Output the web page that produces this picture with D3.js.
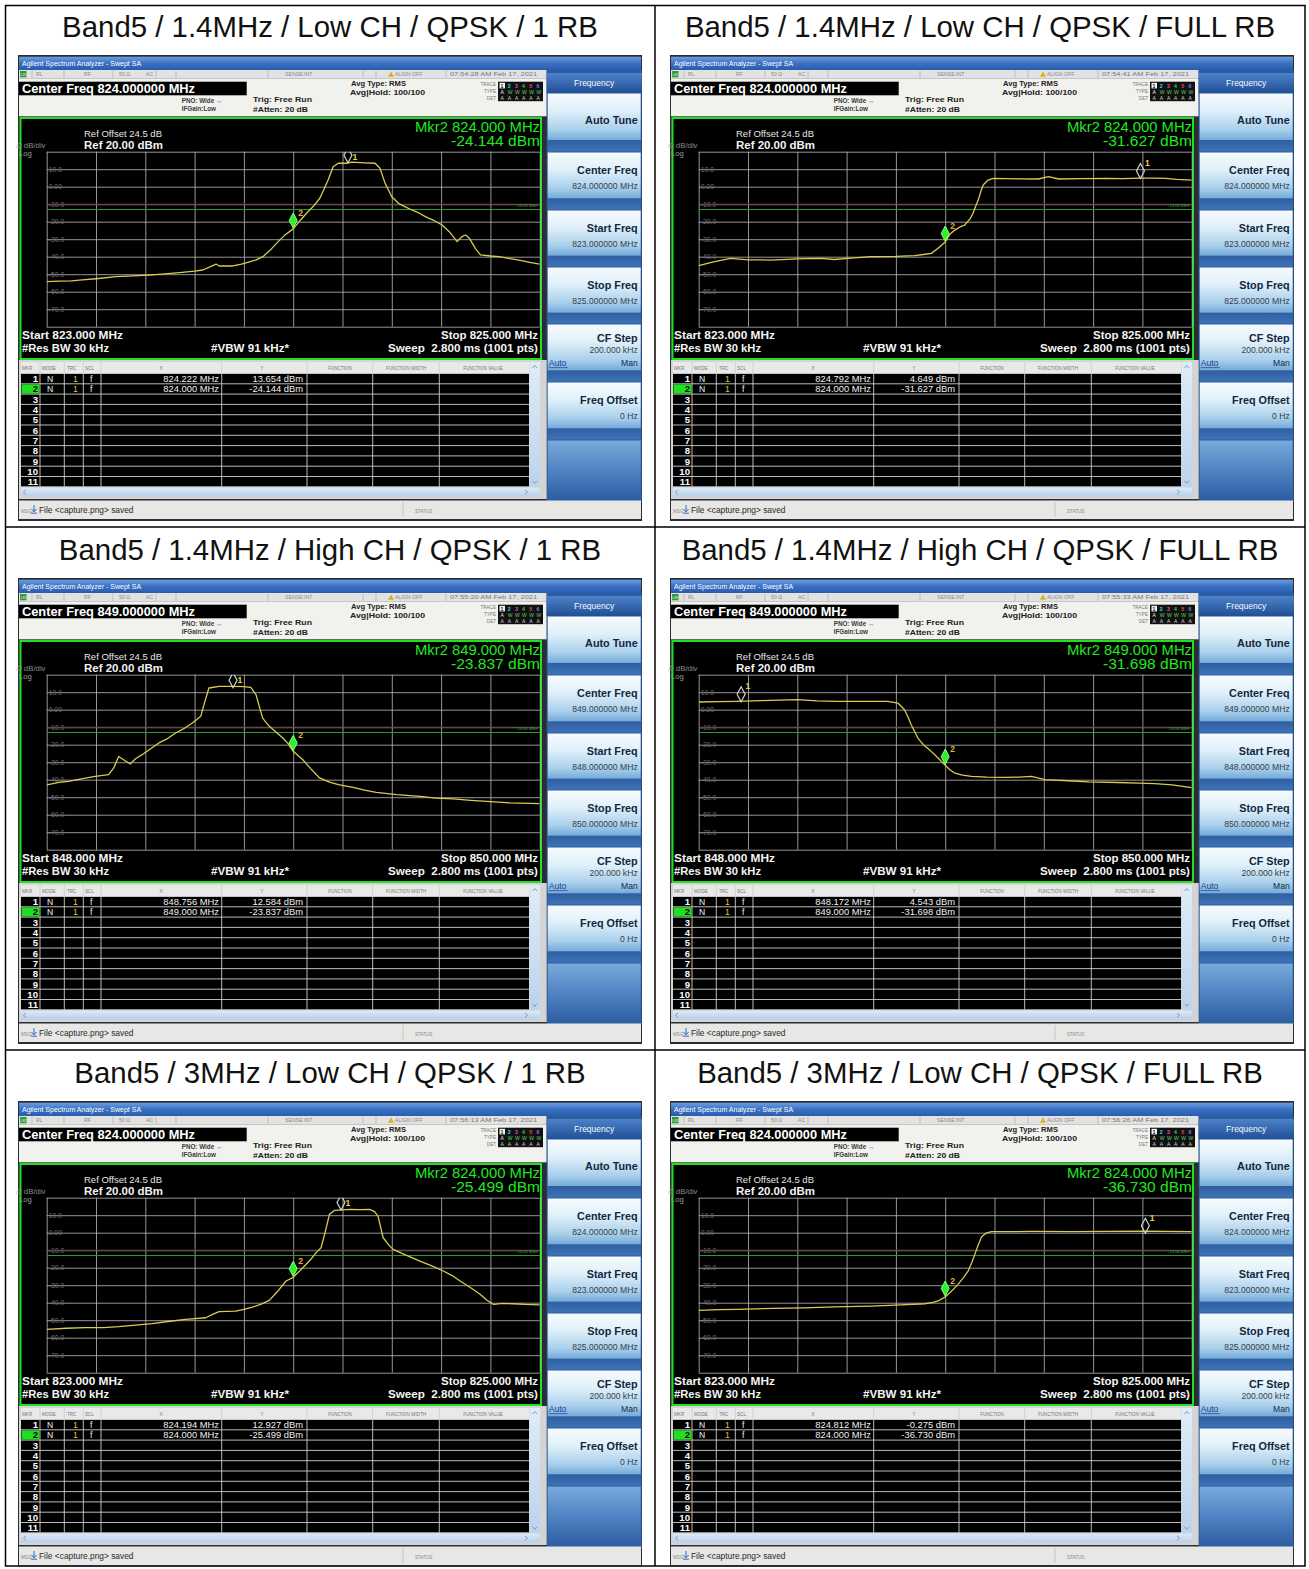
<!DOCTYPE html>
<html>
<head>
<meta charset="utf-8">
<script src="https://cdn.jsdelivr.net/npm/d3@7/dist/d3.min.js"></script>
<style>
html,body{margin:0;padding:0;background:#fff;}
svg{display:block;}
</style>
</head>
<body>
<svg id="chart" width="1309" height="1569"></svg>
<script>
// ---------------- DATA ----------------
const panelTitles = [
  "Band5 / 1.4MHz / Low CH / QPSK / 1 RB",
  "Band5 / 1.4MHz / Low CH / QPSK / FULL RB",
  "Band5 / 1.4MHz / High CH / QPSK / 1 RB",
  "Band5 / 1.4MHz / High CH / QPSK / FULL RB",
  "Band5 / 3MHz / Low CH / QPSK / 1 RB",
  "Band5 / 3MHz / Low CH / QPSK / FULL RB"
];
const centerFreqLabels = ["824.000000 MHz","824.000000 MHz","849.000000 MHz","849.000000 MHz","824.000000 MHz","824.000000 MHz"];
const startFreqLabels = ["823.000000 MHz","823.000000 MHz","848.000000 MHz","848.000000 MHz","823.000000 MHz","823.000000 MHz"];
const stopFreqLabels = ["825.000000 MHz","825.000000 MHz","850.000000 MHz","850.000000 MHz","825.000000 MHz","825.000000 MHz"];
const startFreqs = [823, 823, 848, 848, 823, 823];
const stopFreqs = [825, 825, 850, 850, 825, 825];
const timeStamps = ["07:54:28 AM Feb 17, 2021","07:54:41 AM Feb 17, 2021","07:55:20 AM Feb 17, 2021","07:55:33 AM Feb 17, 2021","07:56:13 AM Feb 17, 2021","07:56:26 AM Feb 17, 2021"];
const mkr1Freq = [824.222, 824.792, 848.756, 848.172, 824.194, 824.812];
const mkr1Level = [13.654, 4.649, 12.584, 4.543, 12.927, -0.275];
const mkr2Freq = [824.000, 824.000, 849.000, 849.000, 824.000, 824.000];
const mkr2Level = [-24.144, -31.627, -23.837, -31.698, -25.499, -36.730];
const yGridLevels = [20,10,0,-10,-20,-30,-40,-50,-60,-70,-80];
const yLabelLevels = [10,0,-10,-20,-30,-40,-50,-60,-70];
const refLevel = 20, bottomLevel = -80, limitLevel = -13, displayLineLevel = -10;

const trace1 = [[823.000,-54.3],[823.05,-54.0],[823.10,-53.8],[823.144,-53.3],[823.20,-52.6],[823.28,-51.4],[823.35,-51.0],[823.415,-50.5],[823.48,-49.8],[823.55,-48.9],[823.60,-48.2],[823.633,-47.6],[823.66,-46.0],[823.687,-44.2],[823.70,-45.3],[823.755,-45.3],[823.79,-44.2],[823.823,-42.9],[823.85,-41.8],[823.877,-40.0],[823.905,-36.5],[823.932,-32.4],[823.965,-27.8],[824.0,-24.1],[824.03,-19.0],[824.054,-15.2],[824.08,-11.5],[824.108,-6.6],[824.125,-1.5],[824.142,4.0],[824.162,11.4],[824.183,13.4],[824.217,13.4],[824.237,14.0],[824.29,13.6],[824.332,13.4],[824.352,10.5],[824.373,1.9],[824.40,-5.7],[824.427,-9.5],[824.455,-11.5],[824.481,-13.3],[824.51,-15.0],[824.536,-17.1],[824.57,-19.2],[824.604,-21.9],[824.635,-26.0],[824.665,-31.4],[824.685,-28.5],[824.699,-27.6],[824.715,-29.5],[824.74,-35.5],[824.76,-39.0],[824.80,-39.6],[824.835,-40.0],[824.875,-41.0],[824.916,-41.9],[824.96,-43.2],[825.0,-44.2]];
const trace2 = [[823.0,-45.1],[823.06,-43.0],[823.129,-41.0],[823.2,-41.8],[823.292,-41.9],[823.4,-41.3],[823.496,-41.0],[823.55,-41.6],[823.604,-41.0],[823.699,-40.0],[823.8,-39.8],[823.876,-39.4],[823.92,-38.6],[823.944,-38.1],[823.971,-35.2],[824.0,-31.6],[824.02,-27.0],[824.039,-24.8],[824.06,-23.0],[824.079,-21.9],[824.1,-18.5],[824.113,-15.2],[824.124,-11.0],[824.134,-7.6],[824.145,-2.5],[824.154,0.95],[824.174,3.8],[824.195,4.76],[824.3,4.5],[824.378,4.4],[824.419,5.7],[824.46,4.4],[824.55,4.6],[824.65,4.76],[824.72,4.6],[824.792,4.9],[824.85,4.9],[824.894,4.76],[824.94,4.2],[825.0,3.8]];
const trace3 = [[848.0,-42.9],[848.05,-41.5],[848.088,-41.0],[848.14,-39.5],[848.197,-38.1],[848.251,-37.1],[848.272,-33.3],[848.292,-26.7],[848.312,-28.6],[848.339,-31.0],[848.36,-28.0],[848.387,-25.7],[848.42,-22.5],[848.455,-19.0],[848.49,-16.5],[848.523,-13.3],[848.56,-10.5],[848.591,-7.6],[848.625,-3.8],[848.638,2.9],[848.658,12.4],[848.699,13.3],[848.756,13.3],[848.8,13.2],[848.828,12.8],[848.849,8.6],[848.876,-4.8],[848.903,-9.5],[848.93,-12.8],[848.958,-16.2],[848.98,-19.5],[849.0,-23.8],[849.039,-28.6],[849.07,-33.5],[849.107,-39.0],[849.15,-41.5],[849.188,-42.9],[849.242,-44.4],[849.29,-46.0],[849.337,-47.2],[849.42,-48.5],[849.514,-49.5],[849.58,-50.5],[849.65,-51.0],[849.72,-51.8],[849.785,-52.4],[849.88,-53.3],[850.0,-53.7]];
const trace4 = [[848.0,4.4],[848.08,4.6],[848.156,4.8],[848.25,5.2],[848.4,5.7],[848.48,5.1],[848.563,4.8],[848.65,4.7],[848.767,4.8],[848.808,3.8],[848.835,0],[848.85,-4.5],[848.862,-8.6],[848.876,-12.5],[848.889,-16.2],[848.915,-20.5],[848.943,-23.8],[848.97,-27.5],[849.0,-31.7],[849.02,-34.5],[849.039,-36.2],[849.07,-37.4],[849.107,-38.1],[849.17,-38.5],[849.242,-38.7],[849.3,-38.5],[849.35,-38.1],[849.405,-40.0],[849.5,-40.6],[849.582,-41.3],[849.7,-41.6],[849.786,-41.9],[849.85,-42.2],[849.921,-42.9],[850.0,-44.5]];
const trace5 = [[823.0,-55.2],[823.08,-54.6],[823.156,-54.3],[823.23,-54.2],[823.292,-53.7],[823.36,-52.8],[823.428,-52.0],[823.5,-50.6],[823.563,-49.5],[823.645,-48.6],[823.675,-46.5],[823.699,-45.1],[823.767,-44.8],[823.80,-43.8],[823.835,-42.5],[823.87,-40.8],[823.903,-38.7],[823.94,-33.0],[823.971,-27.6],[824.0,-25.5],[824.039,-20.0],[824.07,-15.5],[824.093,-11.4],[824.113,-8.6],[824.13,0.5],[824.147,10.5],[824.168,12.8],[824.229,13.3],[824.27,13.2],[824.31,13.3],[824.33,12.0],[824.344,9.5],[824.365,-2.9],[824.385,-6.5],[824.405,-9.5],[824.46,-13.0],[824.514,-16.2],[824.56,-18.8],[824.609,-21.9],[824.645,-24.5],[824.677,-27.6],[824.72,-31.5],[824.758,-35.2],[824.785,-38.5],[824.813,-41.0],[824.85,-40.4],[824.894,-40.6],[824.94,-41.0],[825.0,-41.3]];
const trace6 = [[823.0,-44.4],[823.08,-44.0],[823.156,-43.8],[823.3,-43.2],[823.428,-42.9],[823.55,-42.4],[823.699,-41.9],[823.82,-41.2],[823.917,-40.6],[823.95,-39.8],[823.971,-39.0],[824.0,-36.7],[824.025,-33.5],[824.052,-29.5],[824.075,-25.5],[824.093,-21.9],[824.108,-17.0],[824.12,-12.4],[824.134,-7.0],[824.147,-2.5],[824.165,-0.3],[824.188,0.57],[824.242,0.57],[824.35,0.7],[824.514,0.57],[824.65,0.8],[824.813,0.95],[824.9,0.7],[825.0,0.57]];
const traces = [trace1, trace2, trace3, trace4, trace5, trace6];

// ---------------- LAYOUT ----------------
const FONT = "'Liberation Sans', Arial, Helvetica, sans-serif";
const svg = d3.select("#chart").style("font-family", FONT);
const W = 624, H = 466;
const GL = 28.7, GR = 521.7, GT = 96.7, GB = 271.7;
const colX = [18, 670], rowY = [55, 578, 1101];
const titleCX = [330, 980], titleBase = [37, 560, 1083];

const defs = svg.append("defs");
defs.append("clipPath").attr("id","pclip").append("rect").attr("x",-2).attr("y",0).attr("width",W + 2).attr("height",H);
defs.append("clipPath").attr("id","gclip").append("rect").attr("x",GL).attr("y",GT).attr("width",GR-GL).attr("height",GB-GT);
function grad(id, stops, horiz){
  const g = defs.append("linearGradient").attr("id",id).attr("x1",0).attr("y1",0).attr("x2",horiz?1:0).attr("y2",horiz?0:1);
  stops.forEach(s => g.append("stop").attr("offset",s[0]).attr("stop-color",s[1]));
}
grad("gTitle",[[0,"#6a9ee0"],[0.5,"#3a70c4"],[1,"#2a5cab"]]);
grad("gBtn",[[0,"#f6fbfe"],[0.3,"#e0f0f9"],[0.62,"#a9d0ec"],[0.8,"#76abd9"],[0.81,"#2f5fa3"],[1,"#3f72b6"]]);
grad("gHdr",[[0,"#4d82c8"],[1,"#214f96"]]);
grad("gBlank",[[0,"#79a9db"],[0.5,"#4f82c2"],[1,"#2c5ba0"]]);
grad("gScroll",[[0,"#e0ecf8"],[1,"#bcd3ec"]]);
grad("gScrollH",[[0,"#dde9f6"],[1,"#b8cfe9"]], false);

function txt(g, x, y, s, o) {
  o = o || {};
  const t = g.append("text").attr("x",x).attr("y",y).text(s)
    .attr("font-size", o.size || 8)
    .attr("fill", o.fill || "#000")
    .attr("font-weight", o.bold ? "bold" : "normal")
    .attr("text-anchor", o.anchor || "start");
  if (o.len) t.attr("textLength", o.len).attr("lengthAdjust","spacingAndGlyphs");
  return t;
}

// ---------------- TABLE ----------------
const tbl = svg.append("g");
tbl.append("rect").attr("x",5.5).attr("y",5.5).attr("width",1299.5).attr("height",1560.5)
  .attr("fill","none").attr("stroke","#000").attr("stroke-width",1.5);
tbl.append("line").attr("x1",655).attr("x2",655).attr("y1",5).attr("y2",1566).attr("stroke","#000").attr("stroke-width",1.5);
[527, 1050].forEach(yy => tbl.append("line").attr("x1",5).attr("x2",1305).attr("y1",yy).attr("y2",yy).attr("stroke","#000").attr("stroke-width",1.5));

panelTitles.forEach((s, i) => {
  txt(svg, titleCX[i % 2], titleBase[Math.floor(i / 2)], s, {size: 29.4, anchor: "middle", fill: "#111"});
});

// ---------------- PANELS ----------------
function drawPanel(i) {
  const col = i % 2, row = Math.floor(i / 2);
  const p = svg.append("g").attr("transform", `translate(${colX[col]},${rowY[row]})`).attr("clip-path","url(#pclip)");

  // outer frame
  p.append("rect").attr("x",0).attr("y",0).attr("width",W).attr("height",H).attr("fill","#2a2d33");

  // title bar
  p.append("rect").attr("x",1).attr("y",1.7).attr("width",W-2).attr("height",13.3).attr("fill","url(#gTitle)");
  txt(p, 4, 11.2, "Agilent Spectrum Analyzer - Swept SA", {size: 7, fill: "#fff"});

  // status row
  p.append("rect").attr("x",1).attr("y",15).attr("width",527.7).attr("height",8.3).attr("fill","#e2e2e2");
  p.append("rect").attr("x",2).attr("y",16).attr("width",6.5).attr("height",6.3).attr("fill","#2f9a35");
  txt(p, 2.6, 21.4, "LXI", {size: 3.6, fill: "#fff"});
  [14, 46, 95, 138, 158, 250, 345, 358, 428].forEach(xx =>
    p.append("line").attr("x1",xx).attr("x2",xx).attr("y1",15.5).attr("y2",23).attr("stroke","#a8a8a8").attr("stroke-width",0.6));
  const sOpt = {size: 5.2, fill: "#8a8a8a"};
  txt(p, 18, 21.3, "RL", sOpt);
  txt(p, 66, 21.3, "RF", sOpt);
  txt(p, 101, 21.3, "50 Ω", sOpt);
  txt(p, 128, 21.3, "AC", sOpt);
  txt(p, 267, 21.3, "SENSE:INT", sOpt);
  p.append("path").attr("d","M370,21.8 L373,16.4 L376,21.8 Z").attr("fill","#d9b21c");
  txt(p, 377, 21.3, "ALIGN OFF", sOpt);
  txt(p, 432, 21.3, timeStamps[i], {size: 5.2, fill: "#7a7a7a", len: 87});

  // header info area
  p.append("rect").attr("x",1).attr("y",23.3).attr("width",527.7).attr("height",38).attr("fill","#f1f1ed");
  p.append("rect").attr("x",1).attr("y",26.7).attr("width",227.7).attr("height",13.6).attr("fill","#000");
  txt(p, 4, 37.8, "Center Freq " + centerFreqLabels[i], {size: 12.5, bold: true, fill: "#fff", len: 173});
  txt(p, 163.7, 48.2, "PNO: Wide ↔", {size: 6.3, bold: true, fill: "#3a3a3a"});
  txt(p, 163.7, 56.3, "IFGain:Low", {size: 6.3, bold: true, fill: "#3a3a3a"});
  txt(p, 235, 46.8, "Trig: Free Run", {size: 7.8, bold: true, fill: "#222", len: 59});
  txt(p, 235, 57.2, "#Atten: 20 dB", {size: 7.3, bold: true, fill: "#222", len: 55});
  txt(p, 333, 31.2, "Avg Type: RMS", {size: 7.6, bold: true, fill: "#222", len: 55});
  txt(p, 332, 39.6, "Avg|Hold: 100/100", {size: 7.6, bold: true, fill: "#222", len: 75});
  txt(p, 478, 31.2, "TRACE", {size: 4.6, fill: "#777", anchor: "end"});
  txt(p, 478, 38.0, "TYPE", {size: 4.6, fill: "#777", anchor: "end"});
  txt(p, 478, 44.6, "DET", {size: 4.6, fill: "#777", anchor: "end"});
  p.append("rect").attr("x",480).attr("y",26.7).attr("width",45).attr("height",19.5).attr("fill","#111");
  const trCols = ["#f4e04a","#3fd8e8","#e04ad8","#49d04a","#e35a5a","#7a7cff"];
  trCols.forEach((c, k) => {
    if (k === 0) p.append("rect").attr("x",481.5).attr("y",27.8).attr("width",5.5).attr("height",5.6).attr("fill","#f2f2f2");
    txt(p, 482.5 + k * 7.2, 32.6, String(k + 1), {size: 5.2, bold: true, fill: k === 0 ? "#111" : c});
    txt(p, 482.5 + k * 7.2, 39.3, k === 0 ? "A" : "W", {size: 5, fill: k === 0 ? "#eee" : "#5fcf6a"});
    txt(p, 482.5 + k * 7.2, 45.2, "A", {size: 5, fill: "#cfcfcf"});
  });

  // main display
  p.append("rect").attr("x",2.5).attr("y",63).attr("width",520.5).attr("height",241).attr("fill","#000")
    .attr("stroke","#20e020").attr("stroke-width",2);
  txt(p, -5, 93, "10 dB/div", {size: 7.8, fill: "#8c8c8c"});
  txt(p, 1, 100.5, "Log", {size: 7.6, fill: "#9a9a9a"});
  txt(p, 66, 81.5, "Ref Offset 24.5 dB", {size: 8.6, fill: "#e6e6e6", len: 78});
  txt(p, 66, 94, "Ref 20.00 dBm", {size: 11.5, bold: true, fill: "#f2f2f2", len: 79});
  txt(p, 522, 77, "Mkr2 " + mkr2Freq[i].toFixed(3) + " MHz", {size: 14, fill: "#22e822", anchor: "end", len: 125});
  txt(p, 522, 91, mkr2Level[i].toFixed(3) + " dBm", {size: 14, fill: "#22e822", anchor: "end", len: 89});

  const x = d3.scaleLinear().domain([startFreqs[i], stopFreqs[i]]).range([GL, GR]);
  const y = d3.scaleLinear().domain([bottomLevel, refLevel]).range([GB, GT]);

  // grid
  const xTicks = d3.range(0, 11).map(k => startFreqs[i] + k * (stopFreqs[i] - startFreqs[i]) / 10);
  p.append("g").attr("transform", `translate(0,${GB})`)
    .call(d3.axisBottom(x).tickValues(xTicks).tickSize(-(GB - GT)).tickFormat(""))
    .call(g => g.select(".domain").remove())
    .call(g => g.selectAll("line").attr("stroke","#b0b0b0").attr("stroke-width",0.85));
  p.append("g").attr("transform", `translate(${GL},0)`)
    .call(d3.axisLeft(y).tickValues(yGridLevels).tickSize(-(GR - GL)).tickFormat(""))
    .call(g => g.select(".domain").remove())
    .call(g => g.selectAll("line").attr("stroke","#b0b0b0").attr("stroke-width",0.85));
  p.append("g").attr("transform", `translate(${GL},0)`)
    .call(d3.axisRight(y).tickValues(yLabelLevels).tickSize(0).tickPadding(2)
      .tickFormat(d => d === 0 ? "0.00" : d.toFixed(1)))
    .call(g => g.select(".domain").remove())
    .call(g => g.selectAll("text").attr("fill","#727272").attr("font-size",6.8).attr("font-family",FONT));

  // display line (-10) and limit line (-13)
  p.append("line").attr("x1",GL).attr("x2",GR).attr("y1",y(displayLineLevel)).attr("y2",y(displayLineLevel))
    .attr("stroke","#5e3434").attr("stroke-width",1);
  p.append("line").attr("x1",GL).attr("x2",GR).attr("y1",y(limitLevel)).attr("y2",y(limitLevel))
    .attr("stroke","#2c9a2c").attr("stroke-width",1.1);
  txt(p, GR - 2, y(limitLevel) - 2.5, "-13.00 dBm", {size: 4.2, fill: "#3aa03a", anchor: "end"});

  // trace and markers (clipped to grid)
  const gp = p.append("g").attr("clip-path","url(#gclip)");
  gp.append("path").datum(traces[i])
    .attr("d", d3.line().x(d => x(d[0])).y(d => y(d[1])))
    .attr("fill","none").attr("stroke","#d8cc50").attr("stroke-width",1.3).attr("stroke-linejoin","round");

  const diamond = (cx, yb) => `M${cx},${yb} L${cx + 4},${yb - 7.5} L${cx},${yb - 15} L${cx - 4},${yb - 7.5} Z`;
  const m1x = x(mkr1Freq[i]), m1y = y(mkr1Level[i]);
  gp.append("path").attr("d", diamond(m1x, m1y)).attr("fill","none").attr("stroke","#d2d2d2").attr("stroke-width",1.2);
  txt(gp, m1x + 4.5, Math.max(m1y - 12.5, GT + 8.5), "1", {size: 8.5, bold: true, fill: "#e6d648"});
  const m2x = x(mkr2Freq[i]), m2y = y(mkr2Level[i]);
  gp.append("path").attr("d", diamond(m2x, m2y - 1)).attr("fill","#2cf02c").attr("stroke","#8cff8c").attr("stroke-width",1);
  txt(gp, m2x + 5, m2y - 13, "2", {size: 8.5, bold: true, fill: "#e8b23c"});

  // bottom annotations
  txt(p, 4, 284, "Start " + startFreqs[i].toFixed(3) + " MHz", {size: 11.5, bold: true, fill: "#f4f4f4", len: 101});
  txt(p, 4, 297, "#Res BW 30 kHz", {size: 11.5, bold: true, fill: "#f4f4f4", len: 87});
  txt(p, 193, 297, "#VBW 91 kHz*", {size: 11.5, bold: true, fill: "#f4f4f4", len: 78});
  txt(p, 520, 284, "Stop " + stopFreqs[i].toFixed(3) + " MHz", {size: 11.5, bold: true, fill: "#f4f4f4", anchor: "end", len: 97});
  txt(p, 520, 297, "Sweep  2.800 ms (1001 pts)", {size: 11.5, bold: true, fill: "#f4f4f4", anchor: "end", len: 150}).attr("xml:space","preserve");

  // soft keys
  const SX = 528.7, SW = 95;
  p.append("rect").attr("x",SX).attr("y",15).attr("width",SW).attr("height",432).attr("fill","#2c5ca2");
  p.append("rect").attr("x",SX).attr("y",18).attr("width",SW).attr("height",20).attr("fill","url(#gHdr)");
  txt(p, SX + SW / 2, 31.3, "Frequency", {size: 8.5, fill: "#f4f8ff", anchor: "middle"});
  const btnTops = [38, 97, 155, 212, 269, 327, 385];
  const btnMain = ["Auto Tune","Center Freq","Start Freq","Stop Freq","CF Step","Freq Offset"];
  const btnSub = [null, centerFreqLabels[i], startFreqLabels[i], stopFreqLabels[i], "200.000 kHz", "0 Hz"];
  btnMain.forEach((lab, k) => {
    const t0 = btnTops[k], h = btnTops[k + 1] - t0 - 1;
    p.append("rect").attr("x",SX + 1).attr("y",t0 + 0.5).attr("width",SW - 2).attr("height",h).attr("fill","url(#gBtn)");
    const mainY = k === 0 ? t0 + 30.5 : (k === 4 ? t0 + 17.5 : t0 + 21.5);
    txt(p, SX + SW - 4, mainY, lab, {size: 10.8, bold: true, fill: "#142640", anchor: "end"});
    if (btnSub[k]) {
      const subY = k === 4 ? t0 + 29 : t0 + 37;
      txt(p, SX + SW - 4, subY, btnSub[k], {size: 8.6, fill: "#3a3f48", anchor: "end"});
    }
    if (k === 4) {
      txt(p, SX + 2, t0 + 42.3, "Auto", {size: 8.6, fill: "#1b3f8f"});
      p.append("line").attr("x1",SX + 2).attr("x2",SX + 21).attr("y1",t0 + 43.6).attr("y2",t0 + 43.6).attr("stroke","#1b3f8f").attr("stroke-width",0.7);
      txt(p, SX + SW - 4, t0 + 42.3, "Man", {size: 8.6, fill: "#1a2a44", anchor: "end"});
    }
  });
  p.append("rect").attr("x",SX + 1).attr("y",385.5).attr("width",SW - 2).attr("height",61).attr("fill","url(#gBlank)");

  // marker table
  const TL = 3, TR = 511, HT = 307, RT = 318.5, RH = 10.3, NR = 11;
  p.append("rect").attr("x",1).attr("y",305).attr("width",527.7).attr("height",139).attr("fill","#d4d4d4");
  p.append("rect").attr("x",TL).attr("y",HT).attr("width",TR - TL).attr("height",RT - HT).attr("fill","#e9e9e9");
  p.append("rect").attr("x",TL).attr("y",RT).attr("width",TR - TL).attr("height",RH * NR).attr("fill","#000");
  const hOpt = {size: 4.6, fill: "#777"};
  txt(p, 4, 314.5, "MKR", hOpt); txt(p, 24, 314.5, "MODE", hOpt); txt(p, 49, 314.5, "TRC", hOpt); txt(p, 67, 314.5, "SCL", hOpt);
  txt(p, 143, 314.5, "X", {size: 4.6, fill: "#777", anchor: "middle"});
  txt(p, 244, 314.5, "Y", {size: 4.6, fill: "#777", anchor: "middle"});
  txt(p, 322, 314.5, "FUNCTION", {size: 4.6, fill: "#777", anchor: "middle"});
  txt(p, 388, 314.5, "FUNCTION WIDTH", {size: 4.6, fill: "#777", anchor: "middle"});
  txt(p, 465, 314.5, "FUNCTION VALUE", {size: 4.6, fill: "#777", anchor: "middle"});
  for (let k = 0; k <= NR; k++) {
    p.append("line").attr("x1",TL).attr("x2",TR).attr("y1",RT + k * RH).attr("y2",RT + k * RH).attr("stroke","#cfcfcf").attr("stroke-width",0.9);
  }
  [22, 46.3, 65.3, 83, 203.7, 289, 354.7, 421.3].forEach(xx =>
    p.append("line").attr("x1",xx).attr("x2",xx).attr("y1",HT).attr("y2",RT + RH * NR).attr("stroke","#cfcfcf").attr("stroke-width",0.9));
  p.append("rect").attr("x",TL + 0.5).attr("y",RT + RH + 0.5).attr("width",18).attr("height",RH - 1).attr("fill","#22dd22");
  for (let k = 0; k < NR; k++) {
    txt(p, 20, RT + k * RH + 8.6, String(k + 1), {size: 9.6, bold: true, fill: k === 1 ? "#0a0a0a" : "#fafafa", anchor: "end"});
  }
  const mFreqs = [mkr1Freq[i], mkr2Freq[i]], mLevels = [mkr1Level[i], mkr2Level[i]];
  [0, 1].forEach(k => {
    const by = RT + k * RH + 8.3;
    txt(p, 29, by, "N", {size: 8.6, fill: "#f0f0f0"});
    txt(p, 55, by, "1", {size: 8.6, fill: "#e2c23a"});
    txt(p, 72, by, "f", {size: 8.6, fill: "#f0f0f0"});
    txt(p, 201, by, mFreqs[k].toFixed(3) + " MHz", {size: 9.4, fill: "#f0f0f0", anchor: "end"});
    txt(p, 285, by, mLevels[k].toFixed(3) + " dBm", {size: 9.4, fill: "#f0f0f0", anchor: "end"});
  });
  // scrollbars
  p.append("rect").attr("x",TR + 0.5).attr("y",HT).attr("width",10.5).attr("height",RT + RH * NR - HT).attr("fill","url(#gScroll)");
  p.append("path").attr("d",`M${TR + 3.5},${HT + 6} L${TR + 5.75},${HT + 3.5} L${TR + 8},${HT + 6}`).attr("fill","none").attr("stroke","#6b86b0").attr("stroke-width",0.8);
  p.append("path").attr("d",`M${TR + 3.5},${RT + RH * NR - 6} L${TR + 5.75},${RT + RH * NR - 3.5} L${TR + 8},${RT + RH * NR - 6}`).attr("fill","none").attr("stroke","#6b86b0").attr("stroke-width",0.8);
  p.append("rect").attr("x",TL).attr("y",RT + RH * NR + 0.8).attr("width",519).attr("height",9).attr("fill","url(#gScrollH)");
  p.append("path").attr("d",`M${TL + 5},${RT + RH * NR + 3} L${TL + 2.5},${RT + RH * NR + 5.3} L${TL + 5},${RT + RH * NR + 7.6}`).attr("fill","none").attr("stroke","#6b86b0").attr("stroke-width",0.8);
  p.append("path").attr("d",`M${TR - 4},${RT + RH * NR + 3} L${TR - 1.5},${RT + RH * NR + 5.3} L${TR - 4},${RT + RH * NR + 7.6}`).attr("fill","none").attr("stroke","#6b86b0").attr("stroke-width",0.8);

  // status bar
  p.append("rect").attr("x",1).attr("y",445.5).attr("width",W - 2).attr("height",18.5).attr("fill","#e7e7e5");
  p.append("line").attr("x1",385).attr("x2",385).attr("y1",447).attr("y2",462).attr("stroke","#b8b8b8").attr("stroke-width",0.7);
  txt(p, 3, 457.5, "MSG", {size: 4.6, fill: "#8a8a8a"});
  p.append("path").attr("d","M16,450 L16,456 M13.5,454 L16,457 L18.5,454 M13,458.2 L19,458.2").attr("fill","none").attr("stroke","#2f6fc2").attr("stroke-width",1);
  txt(p, 21, 458, "File <capture.png> saved", {size: 8.4, fill: "#2a2a2a"});
  txt(p, 397, 457.5, "STATUS", {size: 4.6, fill: "#8a8a8a"});
}

for (let i = 0; i < 6; i++) drawPanel(i);
</script>
</body>
</html>
